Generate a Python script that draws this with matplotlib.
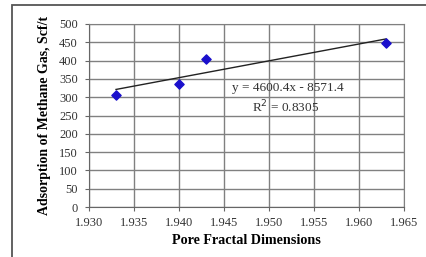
import matplotlib
matplotlib.use('Agg')
import matplotlib.pyplot as plt
import numpy as np
from matplotlib.patches import Rectangle

# data
fractal_dim = [1.933, 1.940, 1.943, 1.963]
adsorption = [307, 335, 405, 448]
slope, intercept = 4600.4, -8571.4
x_ticks = [1.930, 1.935, 1.940, 1.945, 1.950, 1.955, 1.960, 1.965]
y_ticks = list(range(0, 501, 50))

plt.rcParams['font.family'] = ['Liberation Serif', 'DejaVu Serif']

fig = plt.figure(figsize=(4.27, 2.57), dpi=100)
ax = fig.add_axes([89 / 427, 1 - 207 / 257, (404 - 89) / 427, (207 - 24) / 257])

# outer frame
fig.patches.append(Rectangle((12 / 427, -0.01), 1.0, 1 - 5 / 257 + 0.01, transform=fig.transFigure,
                             fill=False, edgecolor='#555555', linewidth=1.3))

ax.set_xlim(1.930, 1.965)
ax.set_ylim(0, 500)
ax.set_xticks(x_ticks)
ax.set_xticklabels([f'{t:.3f}' for t in x_ticks], fontsize=9, color='#333333')
ax.set_yticks(y_ticks)
ax.set_yticklabels([str(t) for t in y_ticks], fontsize=9, color='#333333')
ax.grid(True, color='#808080', linewidth=1.0)
ax.set_axisbelow(True)
for side in ['top', 'right']:
    ax.spines[side].set_color('#808080')
for side in ['left', 'bottom']:
    ax.spines[side].set_color('#666666')
ax.tick_params(axis='y', direction='out', length=3, color='#666666', pad=5)
ax.tick_params(axis='x', direction='out', length=3, color='#666666', pad=4)

# trend line
xs = np.array([fractal_dim[0], fractal_dim[-1]])
ax.plot(xs, slope * xs + intercept, color='#222222', linewidth=1.0)

ax.scatter(fractal_dim, adsorption, marker='D', s=22, color='#1a0fcc', zorder=3)

ax.text(1.9521, 325, 'y = 4600.4x - 8571.4', fontsize=9.5, ha='center', va='center', color='#333333')
ax.text(1.9518, 273, 'R$^2$ = 0.8305', fontsize=9.5, ha='center', va='center', color='#333333')

ax.set_xlabel('Pore Fractal Dimensions', fontsize=10.2, fontweight='bold', labelpad=4)
ax.set_ylabel('Adsorption of Methane Gas, Scf/t', fontsize=10, fontweight='bold', labelpad=6)

fig.savefig('out.png', dpi=100)
